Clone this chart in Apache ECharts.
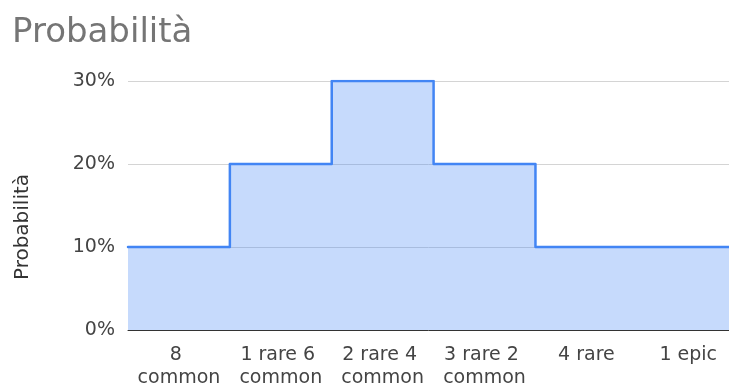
<!DOCTYPE html>
<html>
<head>
<meta charset="utf-8">
<style>
  html, body { margin: 0; padding: 0; background: #ffffff; }
  #chart { width: 729px; height: 385px; }
</style>
<script src="https://cdn.jsdelivr.net/npm/echarts@6/dist/echarts.min.js"></script>
</head>
<body>
<div id="chart"></div>
<script>
const titleText = 'Probabilità';
const yAxisName = 'Probabilità';
const categories = ['8 common', '1 rare 6 common', '2 rare 4 common', '3 rare 2 common', '4 rare', '1 epic'];
const values = [10, 20, 30, 20, 10, 10];
const yTicks = [0, 10, 20, 30];
// The reference crops the plot at its right edge: only ~5.9 of the 6 bands are visible.
const visibleBands = 5.9;

const stepData = values.map((v, i) => [i, v]);
stepData.push([values.length, values[values.length - 1]]);

const chart = echarts.init(document.getElementById('chart'), null, { renderer: 'canvas' });
const font = '"DejaVu Sans", sans-serif';

chart.setOption({
  animation: false,
  backgroundColor: '#ffffff',
  title: {
    text: titleText,
    left: 7,
    top: 11,
    textStyle: { fontFamily: font, fontSize: 34, fontWeight: 'normal', color: '#757575' }
  },
  graphic: [
    {
      type: 'text',
      x: 23,
      y: 227,
      rotation: Math.PI / 2,
      style: {
        text: yAxisName,
        fontFamily: font,
        fontSize: 20,
        fill: '#333333',
        align: 'center',
        verticalAlign: 'middle'
      }
    }
  ],
  grid: { left: 128, right: 0, top: 81, bottom: 55, containLabel: false, outerBoundsMode: 'none' },
  xAxis: {
    type: 'value',
    min: 0,
    max: visibleBands,
    interval: 0.5,
    axisLine: { show: true, onZero: false, lineStyle: { color: '#333333', width: 1 } },
    axisTick: { show: false },
    splitLine: { show: false },
    axisLabel: {
      showMinLabel: true,
      showMaxLabel: false,
      margin: 14,
      color: '#444444',
      fontFamily: font,
      fontSize: 19,
      lineHeight: 23,
      width: 90,
      overflow: 'break',
      formatter: v => {
        const i = v - 0.5;
        return Number.isInteger(i) && categories[i] !== undefined ? categories[i] : '';
      }
    }
  },
  yAxis: {
    type: 'value',
    min: yTicks[0],
    max: yTicks[yTicks.length - 1],
    interval: 10,
    axisLine: { show: false },
    axisTick: { show: false },
    axisLabel: {
      margin: 13,
      color: '#444444',
      fontFamily: font,
      fontSize: 19,
      formatter: v => v + '%'
    },
    splitLine: { show: true, lineStyle: { color: '#d4d4d4', width: 1 } }
  },
  series: [
    {
      type: 'line',
      step: 'end',
      data: stepData,
      showSymbol: false,
      symbol: 'none',
      clip: true,
      lineStyle: { color: '#4285f4', width: 2.5, join: 'round', cap: 'round' },
      areaStyle: { color: '#4285f4', opacity: 0.3 },
      z: 3
    }
  ]
});
</script>
</body>
</html>
